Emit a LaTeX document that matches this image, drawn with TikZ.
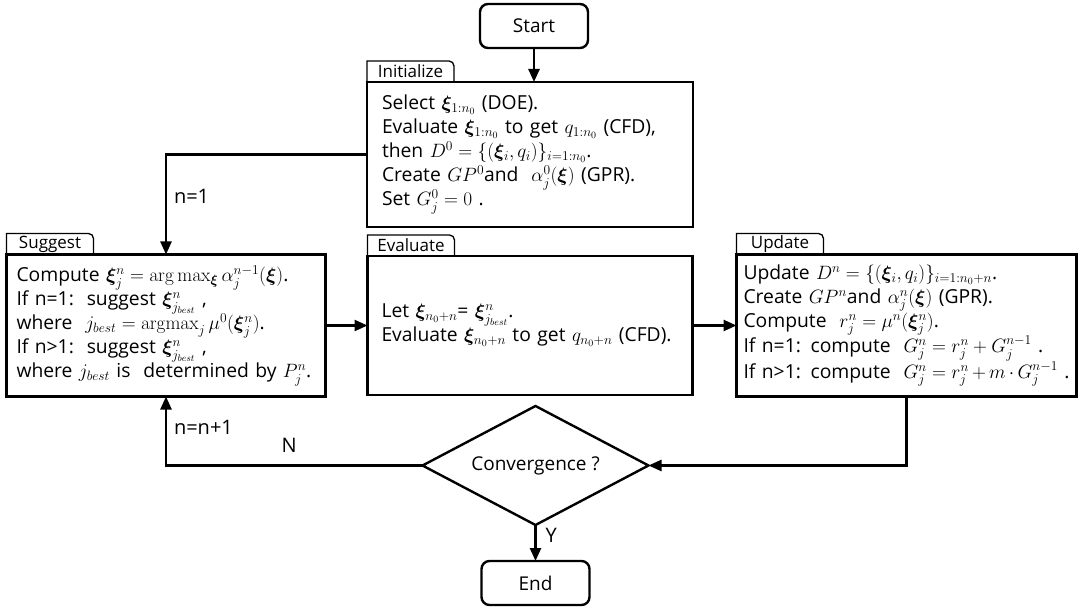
\RequirePackage{fix-cm}
\documentclass[tikz,border=0pt]{standalone}
\usepackage{amsmath,bm}
\usepackage[no-math]{fontspec}
\setmainfont{Open Sans}
\usetikzlibrary{
    arrows.meta,
    positioning,
    shapes.geometric,
}

\begin{document}
\begin{tikzpicture}[
        >={Triangle[length=13pt,width=11pt]},
        node distance=30pt and 42pt,
        every node/.style={outer sep=0pt},
        box/.style={
            rectangle, draw, line width=2.4pt, fill=white,
            align=left, inner ysep=0pt, minimum height=142pt,
            font=\fontsize{19.3}{24}\selectfont
        },
        term/.style={
            rectangle, rounded corners=8pt, draw, line width=2.4pt,
            minimum width=108pt, minimum height=44pt,
            font=\fontsize{19}{22}\selectfont
        },
        decision/.style={
            diamond, aspect=1.9, draw, line width=2.4pt, inner sep=0pt,
            minimum width=226pt, minimum height=119pt,
            font=\fontsize{19}{22}\selectfont
        },
        tab/.style={
            rectangle, minimum width=87pt, minimum height=21pt,
            inner sep=0pt, font=\fontsize{17}{18}\selectfont
        },
        tabline/.style={line width=1.3pt},
        arrow/.style={->, line width=2.4pt},
        lbl/.style={font=\fontsize{20}{22}\selectfont, inner sep=2pt},
    ]

    \useasboundingbox (0,0) rectangle (1078pt,-609pt);

    % ── Start ──
    \node[term] (start) at (534pt,-26pt) {Start};

    % ── Initialize ──
    \node[box, text width=296pt, inner xsep=15pt, minimum height=145pt,
        below=34pt of start, xshift=-4pt] (init)
        {Select $\bm{\xi}_{1:n_0}$ (DOE).\\
         Evaluate $\bm{\xi}_{1:n_0}$ to get $q_{1:n_0}$ (CFD),\\
         then $D^0=\{(\bm{\xi}_i,q_i)\}_{i=1:n_0}$.\\
         Create $GP^0$and\ \ $\alpha_j^0(\bm{\xi})$ (GPR).\\
         Set $G_j^0=0$ .\par\vspace{20pt}};

    % ── Evaluate ──
    \node[box, text width=297pt, inner xsep=14pt, minimum height=139pt,
        below=29pt of init] (eval)
        {Let $\bm{\xi}_{n_0+n}$= $\bm{\xi}_{j_{best}}^n$.\\
         Evaluate $\bm{\xi}_{n_0+n}$ to get $q_{n_0+n}$ (CFD).};

    % ── Suggest ──
    \node[box, text width=299pt, inner xsep=10pt, left=42pt of eval] (suggest)
        {Compute $\bm{\xi}_j^n=\arg\max_{\bm{\xi}}\alpha_j^{n-1}(\bm{\xi})$.\\
         If n=1:\ \ suggest $\bm{\xi}_{j_{best}}^n$ ,\\
         where\ \ $j_{best}=\mathrm{argmax}_j\,\mu^0(\bm{\xi}_j^n)$.\\
         If n>1:\ \ suggest $\bm{\xi}_{j_{best}}^n$ ,\\
         where $j_{best}$ is\ \ determined by $P_j^n$.};

    % ── Update ──
    \node[box, text width=326pt, inner xsep=7pt, right=44pt of eval] (update)
        {Update $D^n=\{(\bm{\xi}_i,q_i)\}_{i=1:n_0+n}$.\\
         Create $GP^n$and $\alpha_j^n(\bm{\xi})$ (GPR).\\
         Compute\ \ $r_j^n=\mu^n(\bm{\xi}_j^n)$.\\
         If n=1: compute\ \ $G_j^n=r_j^n+G_j^{n-1}$ .\\
         If n>1: compute\ \ $G_j^n=r_j^n+m\cdot G_j^{n-1}$ .\par\vspace{20pt}};

    % ── Tabs ──
    \node[tab, anchor=south west] (tabinit) at (init.north west) {Initialize};
    \node[tab, anchor=south west] (tabsug) at (suggest.north west) {Suggest};
    \node[tab, anchor=south west] (tabeval) at (eval.north west) {Evaluate};
    \node[tab, anchor=south west] (tabupd) at (update.north west) {Update};
    \foreach \t in {tabinit,tabsug,tabeval,tabupd}
        \draw[tabline] (\t.south west) -- (\t.north west)
            -- ([xshift=-5pt]\t.north east) arc[start angle=90, end angle=0, radius=5pt]
            -- (\t.south east);

    % ── Convergence + End ──
    \node[decision, below=11pt of eval, xshift=5.5pt] (conv) {Convergence ?};
    \node[term, below=36pt of conv] (end) {End};

    % ── Arrows ──
    \draw[arrow] (start.south) -- (start.south |- init.north);
    \draw[arrow] (init.west) -| (suggest.north)
        node[lbl, pos=0.71, right=6pt] {n=1};
    \draw[arrow] (suggest.east) -- (eval.west);
    \draw[arrow] (eval.east) -- (update.west);
    \draw[arrow] (update.south) |- (conv.east);
    \draw[arrow] (conv.west) -| (suggest.south)
        node[lbl, pos=0.26, above=11pt] {N}
        node[lbl, pos=0.78, right=6pt] {n=n+1};
    \draw[arrow] (conv.south) -- (end.north)
        node[lbl, pos=0.3, right=8pt] {Y};

\end{tikzpicture}
\end{document}
